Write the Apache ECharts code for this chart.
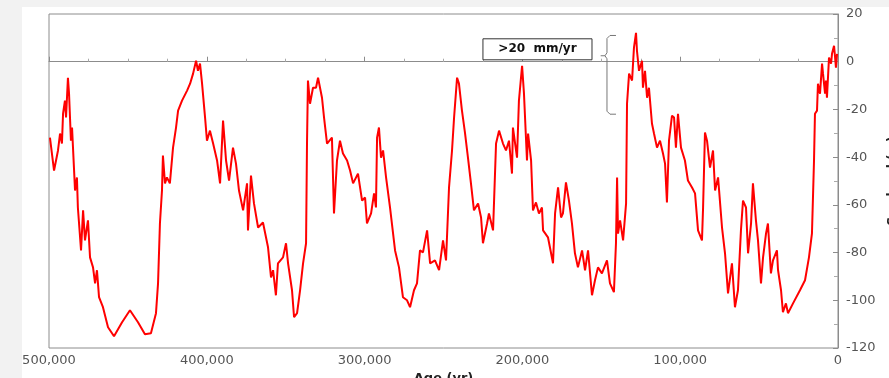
<!DOCTYPE html>
<html>
<head>
<meta charset="utf-8">
<script src="https://cdn.jsdelivr.net/npm/echarts@6/dist/echarts.min.js"></script>
<style>
  html, body { margin: 0; padding: 0; background: #f2f2f2; }
  #paper { position: absolute; left: 22px; top: 7px; right: 0; bottom: 0; background: #fff; }
  #chart { position: absolute; left: 0; top: 0; width: 889px; height: 378px; }
</style>
</head>
<body>
<div id="paper"></div>
<div id="chart"></div>
<script>
// Age (yr before present) and sea level (m)
const ages = [
  499400, 496800, 494300, 493000, 491800, 491100, 489900, 489200, 488000, 487300,
  486100, 485400, 483500, 482300, 481700, 479700, 478400, 477200, 475300, 474000,
  472100, 470800, 469600, 468300, 465800, 462600, 458800, 453700, 448700, 443600,
  439200, 435400, 432200, 430900, 429700, 428400, 427800, 426500, 425300, 423400,
  421400, 419500, 418200, 415700, 412500, 410600, 408700, 406800, 405600, 404300,
  403000, 401100, 399900, 398000, 396000, 393500, 391600, 389700, 387800, 385900,
  383400, 381500, 379600, 377000, 374500, 373900, 372000, 370100, 367500, 364400,
  361200, 359300, 358000, 356200, 354900, 351700, 349800, 348500, 346000, 344700,
  342800, 340900, 339000, 337100, 336500, 335900, 334600, 332700, 330800, 329500,
  327000, 325700, 323800, 320700, 319400, 317500, 315600, 313700, 311100, 309200,
  307300, 304200, 301600, 299700, 298500, 295900, 294000, 292800, 292100, 290900,
  289600, 288300, 286400, 283900, 280700, 278200, 275700, 273100, 271200, 268700,
  266800, 264900, 263000, 260400, 258500, 255400, 252800, 250300, 248400, 246500,
  244600, 243300, 241400, 240200, 238300, 236400, 234500, 232600, 230700, 228100,
  226200, 225000, 222400, 221200, 218600, 216700, 214800, 212300, 210400, 208500,
  206600, 206000, 203400, 202200, 200200, 199000, 197100, 196400, 194500, 193300,
  191400, 189500, 187600, 186900, 183800, 180600, 179300, 177400, 175500, 174300,
  172400, 170500, 168600, 166700, 164800, 162200, 160300, 158400, 155900, 154000,
  152100, 149600, 146400, 144500, 142000, 140700, 140000, 139400, 138100, 136200,
  134300, 133700, 132400, 130500, 129300, 128000, 127400, 126100, 124200, 123600,
  122300, 121000, 119800, 117900, 116600, 114700, 112800, 110900, 109600, 108400,
  107100, 105200, 103900, 102700, 101400, 99500, 97000, 95100, 92500, 90600,
  88700, 86200, 85500, 84300, 83000, 81100, 79200, 77900, 76000, 73500,
  71600, 69700, 67200, 65300, 63400, 61500, 60200, 58300, 57000, 55100,
  53900, 52000, 50700, 48800, 47500, 45600, 44400, 42500, 41200, 38700,
  38000, 36100, 34900, 33000, 31700, 28500, 24100, 20900, 18400, 16500,
  15200, 14600, 13300, 12700, 11400, 10100, 9500, 8200, 7600, 7000,
  5700, 4400, 3800, 2500, 1300, 600
];
const seaLevel = [
  -31.8, -45.6, -37.2, -30.1, -34.3, -21.8, -16.3, -23.4, -6.7, -13.4,
  -33.1, -27.6, -54.0, -48.5, -61.1, -79.1, -62.3, -74.9, -66.5, -82.0,
  -86.2, -92.9, -87.4, -98.7, -102.9, -111.3, -115.1, -109.2, -104.2, -109.2,
  -114.2, -113.8, -105.4, -92.9, -67.8, -54.0, -39.3, -51.0, -48.5, -51.0,
  -36.0, -27.6, -20.5, -16.3, -12.1, -9.2, -5.0, 0.4, -3.8, -0.8,
  -9.2, -23.4, -33.1, -28.9, -34.3, -41.4, -51.0, -24.7, -41.4, -49.8,
  -36.0, -42.7, -54.0, -62.3, -51.0, -70.7, -47.7, -59.4, -69.5, -67.4,
  -77.8, -90.4, -87.4, -97.9, -84.5, -82.0, -76.1, -84.5, -95.8, -107.1,
  -105.4, -95.8, -84.5, -76.1, -34.3, -7.9, -17.6, -10.9, -10.9, -6.7,
  -15.1, -23.4, -34.3, -31.8, -63.6, -41.4, -33.1, -38.5, -41.4, -45.6,
  -51.0, -46.9, -58.2, -56.9, -67.8, -63.6, -55.2, -61.1, -31.8, -27.6,
  -40.2, -37.2, -48.5, -61.1, -79.1, -86.2, -98.7, -100.0, -102.9, -95.8,
  -92.9, -79.1, -79.9, -70.7, -84.5, -83.3, -87.4, -74.9, -83.3, -52.7,
  -37.2, -23.4, -6.7, -9.2, -20.5, -29.7, -40.2, -51.0, -62.3, -59.4,
  -65.3, -76.1, -67.8, -63.6, -70.7, -34.3, -28.9, -34.3, -37.2, -33.1,
  -46.9, -27.6, -40.2, -16.3, -1.7, -13.4, -41.4, -30.1, -41.4, -62.3,
  -59.0, -63.6, -61.1, -70.7, -73.6, -84.5, -63.6, -52.7, -65.3, -63.6,
  -50.6, -58.2, -67.8, -80.3, -86.2, -79.1, -87.4, -79.1, -97.9, -91.6,
  -86.2, -88.7, -83.3, -92.9, -96.6, -76.1, -48.5, -72.0, -66.5, -74.9,
  -59.4, -17.6, -5.0, -7.9, 5.9, 12.1, 4.6, -3.8, 0.4, -10.9,
  -3.8, -15.1, -10.9, -25.9, -30.1, -36.0, -33.1, -38.5, -42.7, -59.0,
  -33.1, -22.6, -23.4, -36.0, -21.8, -36.0, -41.4, -49.8, -52.7, -55.2,
  -70.7, -74.9, -61.1, -29.7, -33.1, -44.4, -37.2, -54.0, -48.5, -69.5,
  -80.3, -97.1, -84.5, -102.9, -95.8, -70.7, -58.2, -61.1, -80.3, -67.8,
  -51.0, -66.5, -74.9, -92.9, -82.0, -72.0, -67.8, -88.7, -83.3, -79.1,
  -87.4, -95.8, -105.0, -101.3, -105.4, -101.3, -95.8, -91.6, -82.0, -72.0,
  -41.4, -21.8, -20.5, -9.2, -13.4, -0.8, -5.0, -13.4, -7.9, -15.1,
  1.7, -0.8, 3.3, 6.7, -2.5, 3.3
];

// annotation: label box and brace, in data units [age, level]
const noteText = ">20  mm/yr";
const noteBox = [[225000, 9.6], [155900, 0.8]];
const braceAge = [146400, 140700, 150400];   // spine, tips, pointer end
const braceLevel = [11, 2.5, -22];          // top, middle, bottom

const axisClr = "#8c8c8c", labelClr = "#555";

const chart = echarts.init(document.getElementById("chart"), null, { renderer: "canvas" });

chart.setOption({
  animation: false,
  backgroundColor: "transparent",
  grid: {
    left: 49, right: 51, top: 14, bottom: 30, outerBoundsMode: "none",
    show: true, borderColor: axisClr, borderWidth: 1, backgroundColor: "transparent",
  },
  xAxis: {
    type: "value", inverse: true, min: 0, max: 500000, interval: 100000,
    name: "Age (yr)", nameLocation: "middle", nameGap: 22,
    nameTextStyle: { color: "#222", fontWeight: "bold", fontSize: 13, fontFamily: "DejaVu Sans" },
    axisLine: { show: true, lineStyle: { color: axisClr } },
    axisTick: { show: true, inside: true, length: 5, lineStyle: { color: axisClr } },
    minorTick: { show: true, splitNumber: 4, length: 3, lineStyle: { color: "#aaa" } },
    axisLabel: { color: labelClr, fontSize: 13, fontFamily: "DejaVu Sans", margin: 6 },
    splitLine: { show: false },
  },
  yAxis: {
    type: "value", position: "right", min: -120, max: 20, interval: 20,
    name: "Sea level (m)", nameLocation: "middle", nameGap: 45, nameRotate: 90,
    nameTextStyle: { color: "#222", fontWeight: "bold", fontSize: 12, fontFamily: "DejaVu Sans" },
    axisLine: { show: true, lineStyle: { color: axisClr } },
    axisTick: { show: true, inside: true, length: 5, lineStyle: { color: axisClr } },
    minorTick: { show: true, splitNumber: 2, length: 4, lineStyle: { color: "#aaa" } },
    axisLabel: { color: labelClr, fontSize: 13, fontFamily: "DejaVu Sans", margin: 8 },
    splitLine: { show: false },
  },
  series: [{
    type: "line", showSymbol: false, symbol: "none",
    data: ages.map((a, i) => [a, seaLevel[i]]),
    lineStyle: { color: "#ff0000", width: 2 },
    z: 3,
  }],
});

// place the annotation from data coordinates
const px = p => chart.convertToPixel({ gridIndex: 0 }, p);
const b0 = px(noteBox[0]), b1 = px(noteBox[1]);
const bTop = px([braceAge[0], braceLevel[0]]);
const bMid = px([braceAge[0], braceLevel[1]]);
const bBot = px([braceAge[0], braceLevel[2]]);
const tipX = px([braceAge[1], 0])[0];
const ptrX = px([braceAge[2], 0])[0];
const spineX = bTop[0];
const braceStyle = { stroke: "#777", lineWidth: 1, fill: null };

chart.setOption({
  graphic: [
    {
      type: "rect", z: 10,
      shape: { x: b0[0], y: b0[1], width: b1[0] - b0[0], height: b1[1] - b0[1] },
      style: { fill: "#fff", stroke: "#333", lineWidth: 1 },
    },
    {
      type: "text", z: 11,
      x: (b0[0] + b1[0]) / 2, y: (b0[1] + b1[1]) / 2,
      style: {
        text: noteText, fill: "#111", font: "bold 12px 'DejaVu Sans'",
        align: "center", verticalAlign: "middle",
      },
    },
    {
      type: "polyline", z: 10,
      shape: { points: [
        [tipX, bTop[1]], [spineX + 3, bTop[1]], [spineX, bTop[1] + 3],
        [spineX, bMid[1] - 3], [spineX - 2, bMid[1]], [spineX, bMid[1] + 3],
        [spineX, bBot[1] - 3], [spineX + 3, bBot[1]], [tipX, bBot[1]],
      ] },
      style: braceStyle,
    },
    {
      type: "line", z: 10,
      shape: { x1: ptrX, y1: bMid[1], x2: spineX - 2, y2: bMid[1] },
      style: braceStyle,
    },
  ],
});
</script>
</body>
</html>
